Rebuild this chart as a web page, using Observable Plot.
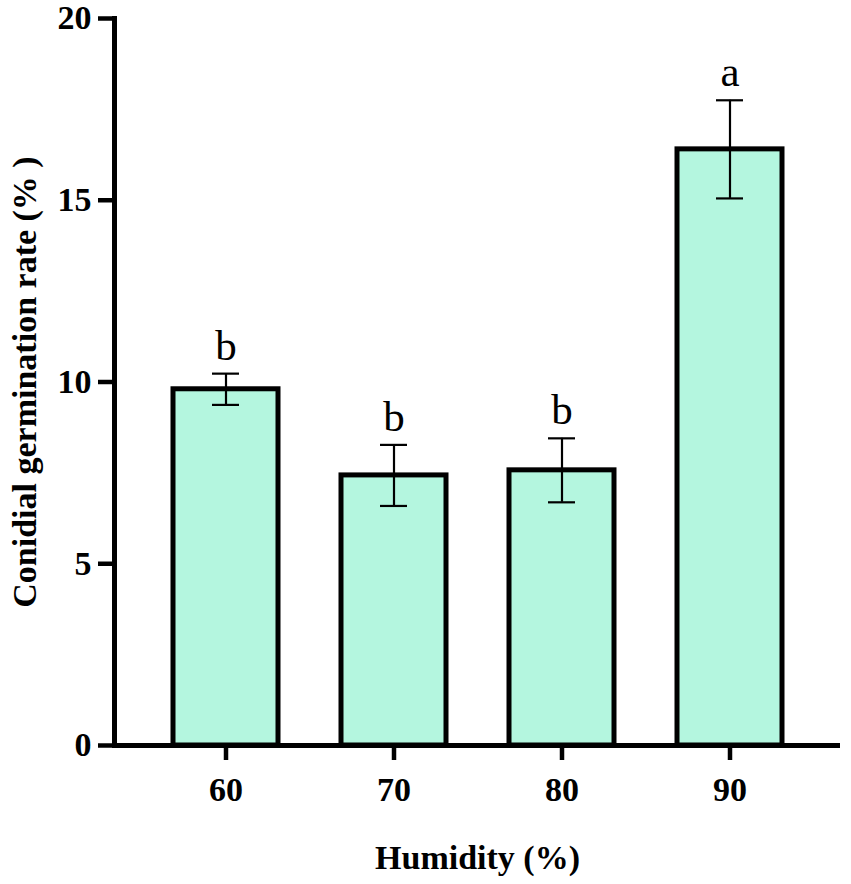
<!DOCTYPE html>
<html>
<head>
<meta charset="utf-8">
<script src="https://cdn.jsdelivr.net/npm/d3@7"></script>
<script src="https://cdn.jsdelivr.net/npm/@observablehq/plot@0.6"></script>
<style>
  html, body { margin: 0; padding: 0; background: #fff; }
</style>
</head>
<body>
<div id="chart"></div>
<script>
const humidity = ["60", "70", "80", "90"];
const rate = [9.8, 7.43, 7.57, 16.4];
const sd = [0.43, 0.84, 0.88, 1.35];
const letters = ["b", "b", "b", "a"];
const yTicks = [0, 5, 10, 15, 20];
const xLabel = "Humidity (%)";
const yLabel = "Conidial germination rate (% )";

const data = humidity.map((h, i) => ({h, v: rate[i], lo: rate[i] - sd[i], hi: rate[i] + sd[i], letter: letters[i]}));

const serif = "'Liberation Serif', 'Times New Roman', serif";

const chart = Plot.plot({
  width: 851,
  height: 884,
  marginLeft: 114,
  marginRight: 11,
  marginTop: 18,
  marginBottom: 139,
  style: {fontFamily: serif, fontWeight: "bold", fontSize: "34px", color: "#000", background: "#fff", overflow: "visible"},
  x: {domain: humidity, paddingInner: 0.375, paddingOuter: 0.348, label: null},
  y: {domain: [0, 20], label: null},
  marks: [
    Plot.barY(data, {x: "h", y: "v", fill: "#b4f6df", stroke: "#000", strokeWidth: 5}),
    Plot.ruleX(data, {x: "h", y1: "lo", y2: "hi", stroke: "#000", strokeWidth: 2.2}),
    Plot.tickY(data, {x: "h", y: "hi", stroke: "#000", strokeWidth: 2.2, insetLeft: 39, insetRight: 39}),
    Plot.tickY(data, {x: "h", y: "lo", stroke: "#000", strokeWidth: 2.2, insetLeft: 39, insetRight: 39}),
    Plot.text(data, {x: "h", y: "hi", text: "letter", dy: -14, lineAnchor: "bottom", fontSize: 43, fontWeight: "normal", fill: "#000"}),
    Plot.axisY({ticks: yTicks, tickSize: 16, tickPadding: 7, strokeWidth: 4.5, label: null, fontSize: 34, fontWeight: "bold"}),
    Plot.axisX({tickSize: 15, tickPadding: 16, strokeWidth: 4.5, label: null, fontSize: 34, fontWeight: "bold"}),
    Plot.ruleY([0], {stroke: "#000", strokeWidth: 5}),
    Plot.frame({anchor: "left", stroke: "#000", strokeWidth: 5}),
    Plot.text([xLabel], {text: d => d, frameAnchor: "bottom", dy: 113, lineAnchor: "middle", textAnchor: "middle", fontSize: 34, fontWeight: "bold", fill: "#000"}),
    Plot.text([yLabel], {text: d => d, frameAnchor: "left", dx: -89, rotate: -90, lineAnchor: "middle", textAnchor: "middle", fontSize: 34, fontWeight: "bold", fill: "#000"})
  ]
});
document.getElementById("chart").appendChild(chart);
</script>
</body>
</html>
